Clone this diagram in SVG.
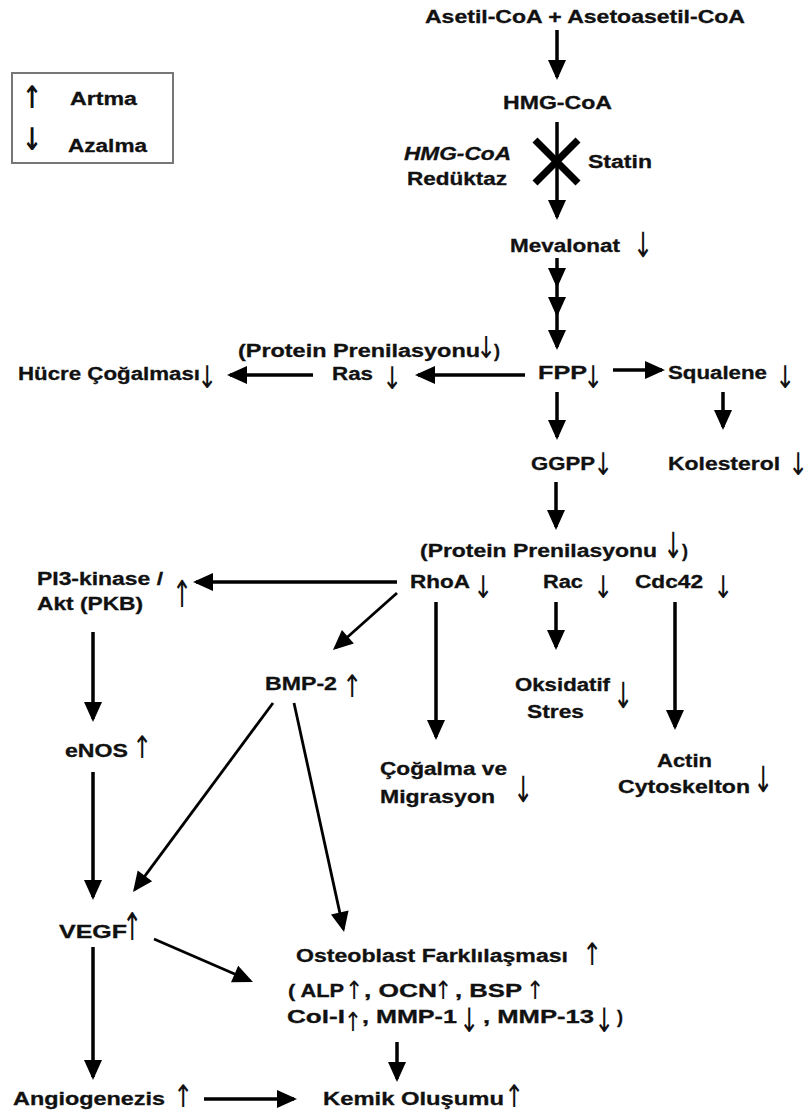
<svg xmlns="http://www.w3.org/2000/svg" width="806" height="1119" viewBox="0 0 806 1119">
<defs>
<style>
.t{font-family:"Liberation Sans",Arial,sans-serif;font-weight:bold;font-size:18px;fill:#111;stroke:#111;stroke-width:0.3}
.i{font-style:italic}
.g{font-family:"DejaVu Sans",sans-serif;font-size:24px;fill:#111;text-anchor:middle}
.s{font-size:22px}
.c{fill:none;stroke:#000;stroke-width:3.5}
.d{fill:none;stroke:#000;stroke-width:2.8}
</style>
<marker id="ah" markerUnits="userSpaceOnUse" markerWidth="20" markerHeight="18" refX="17" refY="9" orient="auto" overflow="visible">
<path d="M0,0 L20,9 L0,18 Z" fill="#000"/>
</marker>
</defs>
<rect width="806" height="1119" fill="#fff"/>

<g id="legend">
<rect x="12" y="73" width="161" height="90" fill="#fff" stroke="#777" stroke-width="2"/>
<text class="g" transform="translate(32,108) scale(1,1.3)" style="font-weight:bold">↑</text>
<text class="t" x="70" y="105" textLength="67" lengthAdjust="spacingAndGlyphs">Artma</text>
<text class="g" transform="translate(32,150) scale(1,1.3)" style="font-weight:bold">↓</text>
<text class="t" x="68" y="152" textLength="79" lengthAdjust="spacingAndGlyphs">Azalma</text>
</g>

<g id="connectors">
<line class="c" x1="557" y1="30" x2="557" y2="77" marker-end="url(#ah)"/>
<line class="c" x1="557" y1="122" x2="557" y2="217" marker-end="url(#ah)"/>
<polyline class="c" points="557,258 557,285 557,314 557,347" marker-mid="url(#ah)" marker-end="url(#ah)"/>
<line class="c" x1="525" y1="375" x2="418" y2="375" marker-end="url(#ah)"/>
<line class="c" x1="313" y1="375" x2="230" y2="375" marker-end="url(#ah)"/>
<line class="c" x1="613" y1="370" x2="662" y2="370" marker-end="url(#ah)"/>
<line class="c" x1="557" y1="392" x2="557" y2="437" marker-end="url(#ah)"/>
<line class="c" x1="723" y1="392" x2="723" y2="427" marker-end="url(#ah)"/>
<line class="c" x1="556" y1="482" x2="556" y2="527" marker-end="url(#ah)"/>
<line class="c" x1="397" y1="582" x2="196" y2="582" marker-end="url(#ah)"/>
<line class="d" x1="397" y1="593" x2="335.2" y2="648" marker-end="url(#ah)"/>
<line class="c" x1="436" y1="602" x2="436" y2="737" marker-end="url(#ah)"/>
<line class="c" x1="556" y1="602" x2="556" y2="647" marker-end="url(#ah)"/>
<line class="c" x1="675" y1="602" x2="675" y2="727" marker-end="url(#ah)"/>
<line class="c" x1="93" y1="632" x2="93" y2="719" marker-end="url(#ah)"/>
<line class="c" x1="93" y1="772" x2="93" y2="897" marker-end="url(#ah)"/>
<line class="d" x1="273" y1="703" x2="134.8" y2="889.6" marker-end="url(#ah)"/>
<line class="d" x1="294" y1="703" x2="343.4" y2="929.1" marker-end="url(#ah)"/>
<line class="d" x1="154" y1="939" x2="250.2" y2="980.8" marker-end="url(#ah)"/>
<line class="c" x1="93" y1="947" x2="93" y2="1077" marker-end="url(#ah)"/>
<line class="c" x1="397" y1="1042" x2="397" y2="1079" marker-end="url(#ah)"/>
<line class="c" x1="204" y1="1099" x2="294" y2="1099" marker-end="url(#ah)"/>
<line x1="535" y1="140" x2="578" y2="183" stroke="#000" stroke-width="7"/>
<line x1="578" y1="140" x2="535" y2="183" stroke="#000" stroke-width="7"/>
</g>

<g id="asetil">
<text class="t" x="425" y="23" textLength="320" lengthAdjust="spacingAndGlyphs">Asetil-CoA + Asetoasetil-CoA</text>
</g>
<g id="hmgcoa">
<text class="t" x="503" y="109" textLength="109" lengthAdjust="spacingAndGlyphs">HMG-CoA</text>
</g>
<g id="reduktaz">
<text class="t i" x="404" y="160" textLength="107" lengthAdjust="spacingAndGlyphs">HMG-CoA</text>
<text class="t" x="407" y="185" textLength="100" lengthAdjust="spacingAndGlyphs">Redüktaz</text>
</g>
<g id="statin">
<text class="t" x="588" y="168" textLength="64" lengthAdjust="spacingAndGlyphs">Statin</text>
</g>
<g id="mevalonat">
<text class="t" x="510" y="252" textLength="110" lengthAdjust="spacingAndGlyphs">Mevalonat</text>
<text class="g" transform="translate(643,257) scale(1,1.45)">↓</text>
</g>
<g id="prenil1">
<text class="t" x="238" y="357" textLength="242" lengthAdjust="spacingAndGlyphs">(Protein Prenilasyonu</text>
<text class="g" transform="translate(486,358) scale(1,1.25)">↓</text>
<text class="t" x="494" y="357">)</text>
</g>
<g id="hucre">
<text class="t" x="18" y="380" textLength="182" lengthAdjust="spacingAndGlyphs">Hücre Çoğalması</text>
<text class="g" transform="translate(207,388) scale(1,1.3)">↓</text>
</g>
<g id="ras">
<text class="t" x="332" y="380" textLength="41" lengthAdjust="spacingAndGlyphs">Ras</text>
<text class="g" transform="translate(392,389) scale(1,1.3)">↓</text>
</g>
<g id="fpp">
<text class="t" x="538" y="379" textLength="49" lengthAdjust="spacingAndGlyphs">FPP</text>
<text class="g" transform="translate(593,388) scale(1,1.3)">↓</text>
</g>
<g id="squalene">
<text class="t" x="668" y="379" textLength="99" lengthAdjust="spacingAndGlyphs">Squalene</text>
<text class="g" transform="translate(785,388) scale(1,1.3)">↓</text>
</g>
<g id="ggpp">
<text class="t" x="531" y="470" textLength="64" lengthAdjust="spacingAndGlyphs">GGPP</text>
<text class="g" transform="translate(603,475) scale(1,1.3)">↓</text>
</g>
<g id="kolesterol">
<text class="t" x="668" y="470" textLength="112" lengthAdjust="spacingAndGlyphs">Kolesterol</text>
<text class="g" transform="translate(798,475) scale(1,1.3)">↓</text>
</g>
<g id="prenil2">
<text class="t" x="420" y="557" textLength="237" lengthAdjust="spacingAndGlyphs">(Protein Prenilasyonu</text>
<text class="g" transform="translate(673,558) scale(1,1.5)">↓</text>
<text class="t" x="682" y="557">)</text>
</g>
<g id="rhoa">
<text class="t" x="410" y="588" textLength="60" lengthAdjust="spacingAndGlyphs">RhoA</text>
<text class="g" transform="translate(483,598) scale(1,1.3)">↓</text>
</g>
<g id="rac">
<text class="t" x="543" y="588" textLength="40" lengthAdjust="spacingAndGlyphs">Rac</text>
<text class="g" transform="translate(603,598) scale(1,1.3)">↓</text>
</g>
<g id="cdc42">
<text class="t" x="635" y="588" textLength="68" lengthAdjust="spacingAndGlyphs">Cdc42</text>
<text class="g" transform="translate(723,598) scale(1,1.3)">↓</text>
</g>
<g id="pi3k">
<text class="t" x="37" y="585" textLength="126" lengthAdjust="spacingAndGlyphs">PI3-kinase /</text>
<text class="t" x="37" y="610" textLength="106" lengthAdjust="spacingAndGlyphs">Akt (PKB)</text>
<text class="g" transform="translate(182,607) scale(1,1.55)">↑</text>
</g>
<g id="bmp2">
<text class="t" x="265" y="690" textLength="72" lengthAdjust="spacingAndGlyphs">BMP-2</text>
<text class="g" transform="translate(352,697) scale(1,1.3)">↑</text>
</g>
<g id="oksidatif">
<text class="t" x="515" y="691" textLength="95" lengthAdjust="spacingAndGlyphs">Oksidatif</text>
<text class="t" x="527" y="718" textLength="57" lengthAdjust="spacingAndGlyphs">Stres</text>
<text class="g" transform="translate(623,708) scale(1,1.5)">↓</text>
</g>
<g id="cogalma">
<text class="t" x="380" y="775" textLength="127" lengthAdjust="spacingAndGlyphs">Çoğalma ve</text>
<text class="t" x="380" y="803" textLength="115" lengthAdjust="spacingAndGlyphs">Migrasyon</text>
<text class="g" transform="translate(523,802) scale(1,1.5)">↓</text>
</g>
<g id="actin">
<text class="t" x="657" y="767" textLength="55" lengthAdjust="spacingAndGlyphs">Actin</text>
<text class="t" x="618" y="793" textLength="132" lengthAdjust="spacingAndGlyphs">Cytoskelton</text>
<text class="g" transform="translate(763,792) scale(1,1.5)">↓</text>
</g>
<g id="enos">
<text class="t" x="65" y="757" textLength="63" lengthAdjust="spacingAndGlyphs">eNOS</text>
<text class="g" transform="translate(142,758) scale(1,1.3)">↑</text>
</g>
<g id="vegf">
<text class="t" x="59" y="938" textLength="68" lengthAdjust="spacingAndGlyphs">VEGF</text>
<text class="g" transform="translate(132,940) scale(1,1.6)">↑</text>
</g>
<g id="osteoblast">
<text class="t" x="296" y="962" textLength="272" lengthAdjust="spacingAndGlyphs">Osteoblast Farklılaşması</text>
<text class="g" transform="translate(592,965) scale(1,1.3)">↑</text>
<text class="t" x="288" y="997" textLength="56" lengthAdjust="spacingAndGlyphs">( ALP</text>
<text class="g s" transform="translate(354,999) scale(1,1.15)">↑</text>
<text class="t" x="364" y="997" textLength="73" lengthAdjust="spacingAndGlyphs">, OCN</text>
<text class="g s" transform="translate(443,999) scale(1,1.15)">↑</text>
<text class="t" x="455" y="997" textLength="67" lengthAdjust="spacingAndGlyphs">, BSP</text>
<text class="g s" transform="translate(535,999) scale(1,1.15)">↑</text>
<text class="t" x="287" y="1023" textLength="58" lengthAdjust="spacingAndGlyphs">Col-I</text>
<text class="g s" transform="translate(353,1031) scale(1,1.2)">↑</text>
<text class="t" x="362" y="1023" textLength="95" lengthAdjust="spacingAndGlyphs">, MMP-1</text>
<text class="g" transform="translate(469,1032) scale(1,1.4)">↓</text>
<text class="t" x="483" y="1023" textLength="111" lengthAdjust="spacingAndGlyphs">, MMP-13</text>
<text class="g" transform="translate(604,1032) scale(1,1.4)">↓</text>
<text class="t" x="617" y="1023">)</text>
</g>
<g id="angiogenezis">
<text class="t" x="13" y="1105" textLength="152" lengthAdjust="spacingAndGlyphs">Angiogenezis</text>
<text class="g" transform="translate(183,1107) scale(1,1.3)">↑</text>
</g>
<g id="kemik">
<text class="t" x="323" y="1105" textLength="181" lengthAdjust="spacingAndGlyphs">Kemik Oluşumu</text>
<text class="g" transform="translate(514,1107) scale(1,1.3)">↑</text>
</g>
</svg>
